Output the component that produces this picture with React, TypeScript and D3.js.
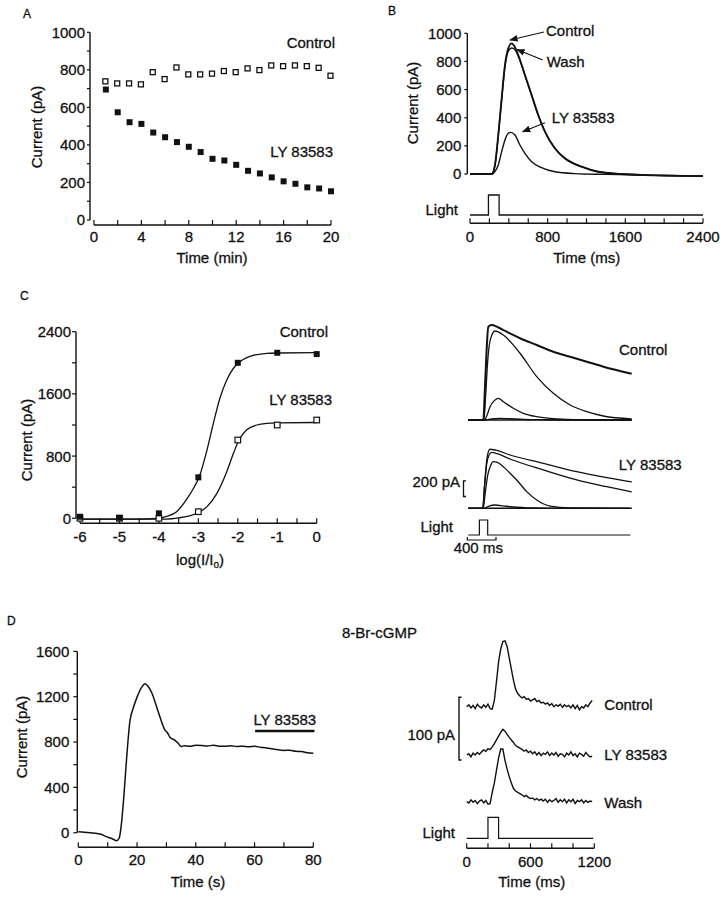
import React from 'react';
import * as d3 from 'd3';

const FONT = "'Liberation Sans', Arial, Helvetica, sans-serif";

// ---------- Panel A ----------
const aTime = [1, 2, 3, 4, 5, 6, 7, 8, 9, 10, 11, 12, 13, 14, 15, 16, 17, 18, 19, 20];
const aControl = [736, 725, 725, 720, 785, 748, 810, 773, 773, 777, 791, 785, 805, 796, 821, 817, 821, 817, 808, 766];
const aLY = [695, 574, 521, 512, 466, 441, 415, 390, 362, 326, 317, 294, 262, 248, 227, 206, 193, 174, 168, 153];
const aXTicks = [0, 2, 4, 6, 8, 10, 12, 14, 16, 18, 20];
const aXLabels = [0, 4, 8, 12, 16, 20];
const aYLabels = [0, 200, 400, 600, 800, 1000];

// ---------- Panel B ----------
const bCtrlT = [0, 200, 223, 257, 291, 326, 360, 394, 429, 460, 497, 566, 635, 703, 772, 874, 977, 1149, 1320, 1560, 1800, 2100, 2400];
const bCtrlV = [0, 0, 0, 64, 277, 538, 775, 893, 929, 905, 846, 704, 561, 419, 301, 183, 112, 52, 16, 0, -8, -12, -15];
const bWashV = [0, 0, 0, 60, 268, 525, 760, 872, 896, 886, 838, 700, 558, 418, 300, 182, 111, 52, 16, 0, -8, -12, -15];
const bLyT = [0, 200, 230, 260, 291, 326, 360, 394, 418, 463, 514, 566, 635, 737, 874, 1080, 1400, 1800, 2400];
const bLyV = [0, 0, 0, 20, 64, 159, 242, 289, 296, 277, 206, 147, 87, 45, 16, 3, -3, -8, -15];
const bLightT = [0, 190, 190, 300, 300, 2400];
const bLightV = [0, 0, 1, 1, 0, 0];
const bXTicks = [0, 200, 400, 600, 800, 1000, 1200, 1400, 1600, 1800, 2000, 2200, 2400];
const bXLabels = [0, 800, 1600, 2400];
const bYLabels = [0, 200, 400, 600, 800, 1000];

// ---------- Panel C (left) ----------
const cLogI = [-6, -5, -4, -3, -2, -1, 0];
const cCtrl = [20, 8, 64, 527, 2000, 2129, 2112];
const cLy = [0, 0, 0, 85, 1007, 1200, 1264];
const cCtrlFitX = [-6, -4.5, -4.06, -3.8, -3.55, -3.29, -3.13, -2.97, -2.78, -2.62, -2.45, -2.28, -2.11, -1.94, -1.61, -1.27, -1, 0];
const cCtrlFitY = [-10, -10, 0, 25, 85, 250, 380, 545, 880, 1220, 1550, 1780, 1930, 2015, 2095, 2120, 2126, 2130];
const cLyFitX = [-6, -3.8, -3.5, -3.2, -2.96, -2.78, -2.53, -2.28, -2.11, -1.97, -1.78, -1.52, -1.27, -1, 0];
const cLyFitY = [-10, -10, 5, 35, 85, 150, 321, 600, 836, 1007, 1136, 1200, 1222, 1228, 1232];
const cXTicks = [-6, -5.5, -5, -4.5, -4, -3.5, -3, -2.5, -2, -1.5, -1, -0.5, 0];
const cXLabels = [-6, -5, -4, -3, -2, -1, 0];
const cYTicks = [0, 400, 800, 1200, 1600, 2000, 2400];
const cYLabels = [0, 800, 1600, 2400];

// ---------- Panel C (right) : families of responses ----------
const cr1T = [0, 217, 240, 265, 289, 338, 420, 506, 747, 988, 1228, 1470, 1711, 1951, 2360];
const cr1V = [0, 0, 400, 900, 1189, 1210, 1185, 1146, 1041, 955, 870, 806, 743, 679, 590];
const cr2T = [0, 225, 250, 280, 320, 386, 506, 747, 988, 1228, 1470, 1711, 1951, 2360];
const cr2V = [0, 0, 300, 750, 1030, 1134, 1083, 850, 552, 340, 191, 106, 51, 15];
const cr3T = [0, 230, 270, 314, 380, 434, 506, 650, 795, 988, 1228, 1560, 2000, 2360];
const cr3V = [0, 0, 60, 170, 250, 276, 233, 149, 85, 42, 17, 5, 0, 0];
const cr4T = [0, 240, 300, 380, 458, 600, 800, 1100, 1500, 2360];
const cr4V = [0, 0, 8, 16, 21, 16, 8, 3, 0, 0];
const ly1T = [0, 208, 235, 265, 290, 314, 400, 603, 1084, 1566, 2000, 2360];
const ly1V = [0, 0, 300, 600, 720, 752, 740, 679, 573, 466, 390, 335];
const ly2T = [0, 208, 235, 265, 300, 338, 420, 603, 1084, 1566, 2000, 2360];
const ly2V = [0, 0, 280, 560, 680, 713, 695, 628, 488, 361, 275, 210];
const ly3T = [0, 215, 245, 280, 320, 361, 420, 506, 600, 699, 844, 988, 1181, 1470, 2360];
const ly3V = [0, 0, 200, 420, 540, 594, 585, 530, 450, 361, 212, 106, 29, 5, 0];
const ly4T = [0, 230, 290, 386, 500, 600, 900, 1200, 2360];
const ly4V = [0, 0, 25, 42, 32, 20, 5, 0, 0];
const crLightT = [0, 160, 160, 280, 280, 2340];
const crLightV = [0, 0, 1, 1, 0, 0];

// ---------- Panel D (left) ----------
const dT = [0, 2, 4, 7.4, 9.6, 11.9, 13, 13.9, 14.7, 15.5, 16.4, 17.6, 18.7, 19.9, 21.6, 22.7, 23.8, 25, 27.2, 29.5, 30.4, 31.2, 32.9, 34, 35, 36, 38, 40, 42, 44, 46, 48, 50, 52, 54, 56, 58, 60, 62, 64, 66, 68, 70, 72, 74, 76, 78, 80];
const dV = [9, 5, 0, -11, -35, -58, -71, -49, 83, 320, 640, 990, 1100, 1190, 1285, 1315, 1290, 1235, 1068, 906, 880, 842, 815, 790, 760, 768, 762, 772, 770, 765, 772, 764, 762, 768, 760, 764, 758, 762, 754, 748, 740, 732, 726, 728, 718, 716, 705, 701];
const dLyBar = [60.2, 80.4];
const dXTicks = [0, 10, 20, 30, 40, 50, 60, 70, 80];
const dXLabels = [0, 20, 40, 60, 80];
const dYTicks = [0, 200, 400, 600, 800, 1000, 1200, 1400, 1600];
const dYLabels = [0, 400, 800, 1200, 1600];

// ---------- Panel D (right) : 8-Br-cGMP ----------
const drT = [0, 20, 40, 60, 80, 100, 120, 140, 160, 180, 200, 220, 240, 260, 280, 300, 320, 340, 360, 380, 400, 420, 440, 460, 480, 500, 520, 540, 560, 580, 600, 620, 640, 660, 680, 700, 720, 740, 760, 780, 800, 820, 840, 860, 880, 900, 920, 940, 960, 980, 1000, 1020, 1040, 1060, 1080, 1100, 1120, 1140, 1160, 1180];
const drCtrl = [0, 3, -2, 2, -3, 4, 0, -2, 3, -1, 4, -3, -4, 10, 40, 72, 92, 104, 105, 96, 78, 60, 42, 28, 21, 17, 14, 16, 12, 13, 9, 11, 13, 8, 10, 6, 7, 4, 6, 2, 5, 0, 3, 1, 4, -1, 3, 0, 2, -2, 3, -3, 2, -5, 0, -2, 3, 0, 6, 10];
const drLy = [0, 2, -3, 3, 0, 4, 1, 5, 8, 6, 10, 9, 13, 18, 24, 30, 36, 41, 38, 33, 28, 24, 20, 15, 13, 11, 9, 6, 8, 4, 6, 2, 5, 0, 4, -1, 3, 1, 5, -1, 3, 0, 4, -2, 2, 1, -3, 3, 0, 5, -1, 2, -3, 3, 1, -2, 4, 0, -3, -2];
const drWash = [0, -2, 3, -1, 2, -3, 1, 3, -2, 2, -4, -3, 15, 30, 50, 70, 84, 84, 66, 52, 40, 30, 21, 17, 15, 13, 11, 8, 10, 7, 5, 6, 3, 5, 2, 4, 1, 4, -1, 3, 0, 2, 5, -1, 3, 0, 4, -2, 3, 0, 4, -3, 2, 0, 3, -2, 2, -1, 1, 0];
const drLightT = [0, 200, 200, 300, 300, 1190];
const drLightV = [0, 0, 1, 1, 0, 0];
const drXTicks = [0, 200, 400, 600, 800, 1000, 1200];
const drXLabels = [0, 600, 1200];

// ---------- helpers ----------
type Sc = d3.ScaleLinear<number, number>;
function path(T: number[], V: number[], xs: Sc, ys: Sc, curve: d3.CurveFactory = d3.curveMonotoneX) {
  const idx = T.map((_, i) => i);
  return d3.line<number>().x(i => xs(T[i])).y(i => ys(V[i])).curve(curve)(idx) || '';
}

const txt = { fontFamily: FONT, fontSize: 15, fill: '#111', stroke: '#111', strokeWidth: 0.3 } as const;

function YAxis({ x, ys, ticks, labels, gap = 6, len = 4, top, bottom }: { x: number; ys: Sc; ticks: number[]; labels: number[]; gap?: number; len?: number; top: number; bottom: number }) {
  return (
    <g>
      <line x1={x} x2={x} y1={top} y2={bottom} stroke="#111" strokeWidth={1.4} />
      {ticks.map(t => <line key={t} x1={x - len} x2={x} y1={ys(t)} y2={ys(t)} stroke="#111" strokeWidth={1.2} />)}
      {labels.map(t => (
        <text key={t} x={x - gap} y={ys(t)} dy="0.36em" textAnchor="end" {...txt}>{t}</text>
      ))}
    </g>
  );
}

function XAxis({ y, xs, ticks, labels, labelY, len = 5 }: { y: number; xs: Sc; ticks: number[]; labels: number[]; labelY: number; len?: number }) {
  const d = xs.domain();
  return (
    <g>
      <line x1={xs(d[0])} x2={xs(d[1])} y1={y} y2={y} stroke="#111" strokeWidth={1.4} />
      {ticks.map(t => <line key={t} x1={xs(t)} x2={xs(t)} y1={y} y2={y - len} stroke="#111" strokeWidth={1.2} />)}
      {labels.map(t => (
        <text key={t} x={xs(t)} y={labelY} textAnchor="middle" {...txt}>{t}</text>
      ))}
    </g>
  );
}

function VLabel({ x, y, children }: { x: number; y: number; children: React.ReactNode }) {
  return <text transform={`translate(${x},${y}) rotate(-90)`} textAnchor="middle" dy="0.35em" {...txt}>{children}</text>;
}

export default function App() {
  // Panel A scales
  const aX = d3.scaleLinear().domain([0, 20]).range([94, 331]);
  const aY = d3.scaleLinear().domain([0, 1000]).range([220, 32.3]);
  // Panel B scales
  const bX = d3.scaleLinear().domain([0, 2400]).range([470, 703]);
  const bY = d3.scaleLinear().domain([0, 1000]).range([174, 33.3]);
  const bL = d3.scaleLinear().domain([0, 1]).range([215, 195]);
  // Panel C left
  const cX = d3.scaleLinear().domain([-6, 0]).range([80, 316.7]);
  const cY = d3.scaleLinear().domain([0, 2400]).range([518.3, 331.7]);
  // Panel C right
  const crX = d3.scaleLinear().domain([0, 2360]).range([468.3, 631.7]);
  const crYc = d3.scaleLinear().domain([0, 1000]).range([420, 341.5]);
  const crYl = d3.scaleLinear().domain([0, 1000]).range([508.3, 429.8]);
  const crL = d3.scaleLinear().domain([0, 1]).range([535, 520]);
  // Panel D left
  const dX = d3.scaleLinear().domain([0, 80]).range([78.3, 313.3]);
  const dY = d3.scaleLinear().domain([0, 1600]).range([832.7, 651.4]);
  // Panel D right
  const drX = d3.scaleLinear().domain([0, 1200]).range([466.7, 594.3]);
  const drYc = d3.scaleLinear().domain([0, 100]).range([706.7, 644]);
  const drYl = d3.scaleLinear().domain([0, 100]).range([755, 692.3]);
  const drYw = d3.scaleLinear().domain([0, 100]).range([801.7, 739]);
  const drL = d3.scaleLinear().domain([0, 1]).range([838.3, 817.3]);

  const sq = 6;
  const stroke = '#111';
  const letter = { fontFamily: FONT, fontSize: 12, fill: '#111', stroke: '#111', strokeWidth: 0.3 } as const;

  return (
    <svg width={720} height={899} style={{ position: 'absolute', left: 0, top: 0, background: '#fff' }}>
      <defs>
        <marker id="arr" viewBox="0 0 10 10" refX="9" refY="5" markerWidth="7" markerHeight="7" orient="auto">
          <path d="M0,1 L10,5 L0,9 z" fill="#111" />
        </marker>
      </defs>
      <rect width={720} height={899} fill="#fff" />

      {/* ===== Panel A ===== */}
      <text x={23} y={18} {...letter}>A</text>
      <YAxis x={90} ys={aY} ticks={[0, 100, 200, 300, 400, 500, 600, 700, 800, 900, 1000]} labels={aYLabels} top={aY(1000)} bottom={aY(0)} gap={5} len={3} />
      <XAxis y={225} xs={aX} ticks={aXTicks} labels={aXLabels} labelY={242} />
      {aTime.map((t, i) => (
        <rect key={'c' + t} x={aX(t) - sq / 2} y={aY(aControl[i]) - sq / 2} width={sq - 1} height={sq - 1} fill="#fff" stroke={stroke} strokeWidth={1.3} />
      ))}
      {aTime.map((t, i) => (
        <rect key={'l' + t} x={aX(t) - sq / 2} y={aY(aLY[i]) - sq / 2} width={sq} height={sq} fill={stroke} />
      ))}
      <text x={335} y={48} textAnchor="end" {...txt}>Control</text>
      <text x={333} y={157} textAnchor="end" {...txt}>LY 83583</text>
      <VLabel x={37} y={127}>Current (pA)</VLabel>
      <text x={212} y={263} textAnchor="middle" {...txt}>Time (min)</text>

      {/* ===== Panel B ===== */}
      <text x={388} y={15} {...letter}>B</text>
      <YAxis x={467.3} ys={bY} ticks={bYLabels} labels={bYLabels} top={bY(1000)} bottom={bY(0)} gap={6} len={3} />
      <path d={path(bCtrlT, bCtrlV, bX, bY)} fill="none" stroke={stroke} strokeWidth={1.8} />
      <path d={path(bCtrlT, bWashV, bX, bY)} fill="none" stroke={stroke} strokeWidth={1.4} />
      <path d={path(bLyT, bLyV, bX, bY)} fill="none" stroke={stroke} strokeWidth={1.4} />
      <path d={path(bLightT, bLightV, bX, bL, d3.curveLinear)} fill="none" stroke={stroke} strokeWidth={1.3} />
      <XAxis y={223.3} xs={bX} ticks={bXTicks} labels={bXLabels} labelY={242} />
      <text x={458} y={215} textAnchor="end" {...txt}>Light</text>
      <text x={546} y={36} {...txt}>Control</text>
      <line x1={544} y1={32} x2={510} y2={40} stroke={stroke} strokeWidth={1.2} markerEnd="url(#arr)" />
      <text x={546.7} y={67} {...txt}>Wash</text>
      <line x1={542.7} y1={60} x2={517} y2={49.5} stroke={stroke} strokeWidth={1.2} markerEnd="url(#arr)" />
      <text x={551.7} y={123.3} {...txt}>LY 83583</text>
      <line x1={545} y1={122.7} x2={522.7} y2={131.7} stroke={stroke} strokeWidth={1.2} markerEnd="url(#arr)" />
      <VLabel x={413} y={103}>Current (pA)</VLabel>
      <text x={586.7} y={263} textAnchor="middle" {...txt}>Time (ms)</text>

      {/* ===== Panel C left ===== */}
      <text x={20} y={300} {...letter}>C</text>
      <YAxis x={76} ys={cY} ticks={cYTicks} labels={cYLabels} top={cY(2400)} bottom={cY(0)} gap={5} len={4} />
      <XAxis y={523.3} xs={cX} ticks={cXTicks} labels={cXLabels} labelY={541.7} />
      <path d={path(cCtrlFitX, cCtrlFitY, cX, cY)} fill="none" stroke={stroke} strokeWidth={1.3} />
      <path d={path(cLyFitX, cLyFitY, cX, cY)} fill="none" stroke={stroke} strokeWidth={1.3} />
      {cLogI.map((t, i) => (
        <rect key={'cl' + t} x={cX(t) - 2.8} y={cY(cLy[i]) - 2.8} width={5.6} height={5.6} fill="#fff" stroke={stroke} strokeWidth={1.2} />
      ))}
      {cLogI.map((t, i) => (
        <rect key={'cc' + t} x={cX(t) - 3} y={cY(cCtrl[i]) - 3} width={6} height={6} fill={stroke} />
      ))}
      <text x={328} y={337} textAnchor="end" {...txt}>Control</text>
      <text x={332} y={405} textAnchor="end" {...txt}>LY 83583</text>
      <VLabel x={27} y={440}>Current (pA)</VLabel>
      <text x={200} y={565} textAnchor="middle" {...txt}>log(I/I<tspan fontSize={10} dy={3}>o</tspan><tspan dy={-3}>)</tspan></text>

      {/* ===== Panel C right ===== */}
      <path d={`M${crX(0)},${crYc(0)}H${crX(2360)}`} stroke={stroke} strokeWidth={1.6} />
      {[[cr1T, cr1V, 2.0], [cr2T, cr2V, 1.3], [cr3T, cr3V, 1.3], [cr4T, cr4V, 1.3]].map((s, i) => (
        <path key={'cr' + i} d={path(s[0] as number[], s[1] as number[], crX, crYc)} fill="none" stroke={stroke} strokeWidth={s[2] as number} />
      ))}
      <path d={`M${crX(0)},${crYl(0)}H${crX(2340)}`} stroke={stroke} strokeWidth={1.4} />
      {[[ly1T, ly1V], [ly2T, ly2V], [ly3T, ly3V], [ly4T, ly4V]].map((s, i) => (
        <path key={'ly' + i} d={path(s[0], s[1], crX, crYl)} fill="none" stroke={stroke} strokeWidth={1.3} />
      ))}
      <path d={path(crLightT, crLightV, crX, crL, d3.curveLinear)} fill="none" stroke={stroke} strokeWidth={1.2} />
      <text x={619} y={355} {...txt}>Control</text>
      <text x={681.7} y={470} textAnchor="end" {...txt}>LY 83583</text>
      <text x={460} y={487} textAnchor="end" {...txt}>200 pA</text>
      <path d={`M${466},${crYl(0) - 27.5}h-2.5V${crYl(0) - 11.8}h2.5`} fill="none" stroke={stroke} strokeWidth={1.3} />
      <text x={453} y={532} textAnchor="end" {...txt}>Light</text>
      <path d={`M${crX(0) - 1},${537}V${540}H${crX(400)}V${537}`} fill="none" stroke={stroke} strokeWidth={1.2} />
      <text x={478.3} y={553.3} textAnchor="middle" {...txt}>400 ms</text>

      {/* ===== Panel D left ===== */}
      <text x={7} y={625} {...letter}>D</text>
      <YAxis x={77.3} ys={dY} ticks={dYTicks} labels={dYLabels} top={dY(1600)} bottom={dY(0)} gap={8} len={4} />
      <XAxis y={847.3} xs={dX} ticks={dXTicks} labels={dXLabels} labelY={865} />
      <path d={path(dT, dV, dX, dY)} fill="none" stroke={stroke} strokeWidth={1.5} />
      <line x1={dX(dLyBar[0])} x2={dX(dLyBar[1])} y1={731} y2={731} stroke={stroke} strokeWidth={2.6} />
      <text x={(dX(dLyBar[0]) + dX(dLyBar[1])) / 2} y={725} textAnchor="middle" {...txt}>LY 83583</text>
      <VLabel x={22} y={737}>Current (pA)</VLabel>
      <text x={198} y={887} textAnchor="middle" {...txt}>Time (s)</text>
      <text x={342} y={638} {...txt}>8-Br-cGMP</text>

      {/* ===== Panel D right ===== */}
      <path d={path(drT, drCtrl, drX, drYc, d3.curveLinear)} fill="none" stroke={stroke} strokeWidth={1.4} />
      <path d={path(drT, drLy, drX, drYl, d3.curveLinear)} fill="none" stroke={stroke} strokeWidth={1.4} />
      <path d={path(drT, drWash, drX, drYw, d3.curveLinear)} fill="none" stroke={stroke} strokeWidth={1.4} />
      <path d={path(drLightT, drLightV, drX, drL, d3.curveLinear)} fill="none" stroke={stroke} strokeWidth={1.2} />
      <XAxis y={848.3} xs={drX} ticks={drXTicks} labels={drXLabels} labelY={866.7} />
      <path d={`M${461.5},${697.3}h-2.5V${760}h2.5`} fill="none" stroke={stroke} strokeWidth={1.4} />
      <text x={455} y={740} textAnchor="end" {...txt}>100 pA</text>
      <text x={604.3} y={710} {...txt}>Control</text>
      <text x={604.3} y={760} {...txt}>LY 83583</text>
      <text x={604.3} y={808.3} {...txt}>Wash</text>
      <text x={455} y={838.3} textAnchor="end" {...txt}>Light</text>
      <text x={531.7} y={887} textAnchor="middle" {...txt}>Time (ms)</text>
    </svg>
  );
}
